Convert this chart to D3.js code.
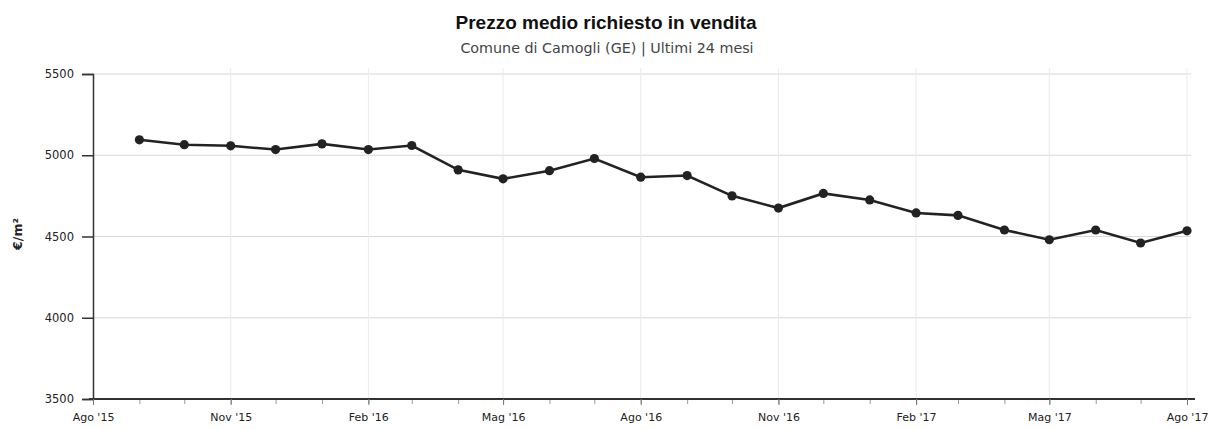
<!DOCTYPE html>
<html><head><meta charset="utf-8">
<script src="https://cdn.jsdelivr.net/npm/d3@7"></script>
<style>
body{margin:0;background:#fff;}
text{font-family:"DejaVu Sans",Verdana,sans-serif;}
text.ttl{font-family:"Liberation Sans",Arial,sans-serif;}
</style></head>
<body><svg id="c" width="1218" height="429"></svg>
<script>
const months = ["2015-09","2015-10","2015-11","2015-12","2016-01","2016-02","2016-03","2016-04","2016-05","2016-06","2016-07","2016-08","2016-09","2016-10","2016-11","2016-12","2017-01","2017-02","2017-03","2017-04","2017-05","2017-06","2017-07","2017-08"];
const prices = [5095,5065,5058,5035,5070,5035,5060,4910,4855,4905,4980,4865,4875,4750,4675,4765,4725,4645,4630,4540,4480,4540,4460,4535];
const xTickDates = ["2015-08","2015-11","2016-02","2016-05","2016-08","2016-11","2017-02","2017-05","2017-08"];
const xTickLabels = ["Ago '15","Nov '15","Feb '16","Mag '16","Ago '16","Nov '16","Feb '17","Mag '17","Ago '17"];
const yTicks = [3500,4000,4500,5000,5500];
const title = "Prezzo medio richiesto in vendita";
const subtitle = "Comune di Camogli (GE) | Ultimi 24 mesi";
const yTitle = "€/m²";

const parse = d3.timeParse("%Y-%m");
const svg = d3.select("#c");
const L=93, R=1187, T=74, B=399;
const x = d3.scaleTime().domain([parse("2015-08"), parse("2017-08")]).range([L,R]);
const y = d3.scaleLinear().domain([3500,5500]).range([B,T]);

// title
svg.append("text").attr("class","ttl").attr("x",606).attr("y",29).attr("text-anchor","middle")
  .attr("font-size",19).attr("font-weight","bold").attr("fill","#111").text(title);
svg.append("text").attr("x",607).attr("y",53).attr("text-anchor","middle")
  .attr("font-size",14.3).attr("fill","#444").text(subtitle);

// horizontal gridlines
svg.append("g").selectAll("line").data(yTicks.slice(1)).join("line")
  .attr("x1",L).attr("x2",R+4).attr("y1",d=>y(d)).attr("y2",d=>y(d))
  .attr("stroke","#d8d8d8").attr("stroke-width",1);
// vertical gridlines
svg.append("g").selectAll("line").data(xTickDates.slice(1)).join("line")
  .attr("x1",d=>x(parse(d))).attr("x2",d=>x(parse(d))).attr("y1",T-6).attr("y2",B)
  .attr("stroke","#ebebeb").attr("stroke-width",1);

// y axis
const yAxis = d3.axisLeft(y).tickValues(yTicks).tickSize(11).tickPadding(8).tickFormat(d3.format("d"));
const gy = svg.append("g").attr("transform",`translate(${L},0)`).call(yAxis);
gy.select(".domain").attr("stroke","#333").attr("stroke-width",1.5);
gy.selectAll(".tick line").attr("stroke","#333").attr("stroke-width",1.5);
gy.selectAll("text").attr("font-size",11.5).attr("fill","#222");

// x axis minor monthly ticks
const monthTicks = d3.timeMonth.range(parse("2015-08"), d3.timeMonth.offset(parse("2017-08"),1));
const xAxisMinor = d3.axisBottom(x).tickValues(monthTicks).tickSize(5).tickFormat("");
const gxm = svg.append("g").attr("transform",`translate(0,${B})`).call(xAxisMinor);
gxm.select(".domain").remove();
gxm.selectAll(".tick line").attr("stroke","#999");

const xAxis = d3.axisBottom(x).tickValues(xTickDates.map(parse)).tickSize(6).tickPadding(8)
  .tickFormat((d,i)=>xTickLabels[i]);
const gx = svg.append("g").attr("transform",`translate(0,${B})`).call(xAxis);
gx.select(".domain").attr("stroke","#333").attr("stroke-width",2).attr("d",`M${L-4},0H${R+8}`);
gx.selectAll(".tick line").attr("stroke","#777");
gx.selectAll("text").attr("font-size",11).attr("fill","#222");

// y title
svg.append("text").attr("transform","translate(22,234) rotate(-90)").attr("text-anchor","middle")
  .attr("font-size",12.5).attr("font-weight","bold").attr("fill","#222").text(yTitle);

// line
const data = months.map((m,i)=>({d:parse(m), v:prices[i]}));
svg.append("path").datum(data)
  .attr("d", d3.line().x(p=>x(p.d)).y(p=>y(p.v)))
  .attr("fill","none").attr("stroke","#222").attr("stroke-width",2.6);
svg.append("g").selectAll("circle").data(data).join("circle")
  .attr("cx",p=>x(p.d)).attr("cy",p=>y(p.v)).attr("r",4.6).attr("fill","#222");
</script></body></html>
